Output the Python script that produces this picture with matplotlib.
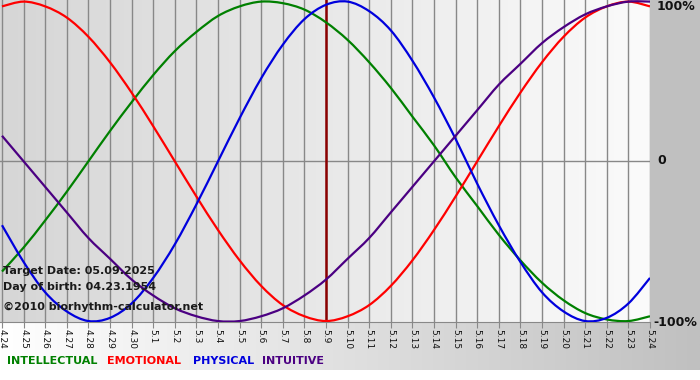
import numpy as np
import matplotlib
matplotlib.use("Agg")
import matplotlib.pyplot as plt
from matplotlib.path import Path
from matplotlib.patches import PathPatch

# ==========================================
# Data (daily values, 4.24 .. 5.24)
# ==========================================
dates = ["4.24", "4.25", "4.26", "4.27", "4.28", "4.29", "4.30"] + \
        [f"5.{d}" for d in range(1, 25)]

physical = [-0.40, -0.63, -0.82, -0.94, -1.00, -0.98, -0.89, -0.73, -0.52, -0.27,
            0.00, 0.27, 0.52, 0.73, 0.89, 0.98, 1.00, 0.94, 0.82, 0.63,
            0.40, 0.14, -0.14, -0.40, -0.63, -0.82, -0.94, -1.00, -0.98, -0.89, -0.73]
emotional = [0.97, 1.00, 0.97, 0.90, 0.78, 0.62, 0.43, 0.22, 0.00, -0.22,
             -0.43, -0.62, -0.78, -0.90, -0.97, -1.00, -0.97, -0.90, -0.78, -0.62,
             -0.43, -0.22, 0.00, 0.22, 0.43, 0.62, 0.78, 0.90, 0.97, 1.00, 0.97]
intellectual = [-0.69, -0.54, -0.37, -0.19, 0.00, 0.19, 0.37, 0.54, 0.69, 0.81,
                0.91, 0.97, 1.00, 0.99, 0.95, 0.87, 0.76, 0.62, 0.46, 0.28,
                0.10, -0.10, -0.28, -0.46, -0.62, -0.76, -0.87, -0.95, -0.99, -1.00, -0.97]
intuitive = [0.16, 0.00, -0.16, -0.32, -0.48, -0.61, -0.74, -0.84, -0.92, -0.97,
             -1.00, -1.00, -0.97, -0.92, -0.84, -0.74, -0.61, -0.48, -0.32, -0.16,
             0.00, 0.16, 0.32, 0.48, 0.61, 0.74, 0.84, 0.92, 0.97, 1.00, 1.00]

target_idx = dates.index("5.9")
target_text = "Target Date: 05.09.2025"
birth_text = "Day of birth: 04.23.1954"
site_text = "\u00a92010 biorhythm-calculator.net"

W, H = 700, 380
PX, PY = 650, 322   # plot area size in px


def smooth_path(xs, ys):
    """Catmull-Rom through the points, drawn as cubic Bezier segments"""
    pts = np.column_stack([xs, ys]).astype(float)
    verts = [pts[0]]
    codes = [Path.MOVETO]
    n = len(pts)
    for i in range(n - 1):
        p0 = pts[i - 1] if i > 0 else pts[i]
        p1, p2 = pts[i], pts[i + 1]
        p3 = pts[i + 2] if i + 2 < n else pts[i + 1]
        c1 = p1 + (p2 - p0) / 6.0
        c2 = p2 - (p3 - p1) / 6.0
        verts += [c1, c2, p2]
        codes += [Path.CURVE4] * 3
    return Path(verts, codes)


fig = plt.figure(figsize=(W / 100, H / 100), dpi=100)

# ==========================================
# Background (gradients) in pixel coords
# ==========================================
bg = fig.add_axes([0, 0, 1, 1])
bg.axis("off")

bg.add_patch(plt.Rectangle((0, 0), W, H, color="#ffffff", zorder=0))
bg.add_patch(plt.Rectangle((PX, 0), W - PX, PY, color="#c0c0c0", zorder=0))

grad = np.linspace(0, 1, 256).reshape(1, -1)
plot_cmap = matplotlib.colors.LinearSegmentedColormap.from_list("p", ["#d6d6d6", "#fbfbfb"])
bot_cmap = matplotlib.colors.LinearSegmentedColormap.from_list("b", ["#ffffff", "#c0c0c0"])
bg.imshow(grad, cmap=plot_cmap, extent=(0, PX, PY, 0), aspect="auto", zorder=1)
bg.imshow(grad, cmap=bot_cmap, extent=(0, W, 370, PY), aspect="auto", zorder=1)
bg.set_xlim(0, W)
bg.set_ylim(H, 0)

# right side labels
bg.text(657, 7, "100%", fontsize=9, fontweight="bold", color="#111111", va="center", ha="left")
bg.text(657, 161, "0", fontsize=9, fontweight="bold", color="#111111", va="center", ha="left")
bg.text(653, 322, "-100%", fontsize=9, fontweight="bold", color="#111111", va="center", ha="left")

# legend row
legend = [("INTELLECTUAL", "#008000", 7), ("EMOTIONAL", "#ff0000", 107),
          ("PHYSICAL", "#0000dd", 193), ("INTUITIVE", "#4b0082", 262)]
for name, col, xp in legend:
    bg.text(xp, 361, name, fontsize=8, fontweight="bold", color=col, va="center", ha="left")

# ==========================================
# Main plot
# ==========================================
ax = fig.add_axes([0, (H - PY) / H, PX / W, PY / H])
ax.patch.set_alpha(0)
x = np.arange(len(dates))
ax.set_xlim(-2 / 21.6, len(dates) - 1)
ax.set_ylim(-1.006, 1.01)

for xi in x:
    ax.axvline(xi, color="#888888", lw=1, zorder=1)
ax.axhline(0, color="#888888", lw=1, zorder=1)

ax.axvline(target_idx, color="#8b0000", lw=1.8, zorder=2)

for series, col in [(intellectual, "#008000"), (emotional, "#ff0000"),
                    (physical, "#0000dd"), (intuitive, "#4b0082")]:
    ax.add_patch(PathPatch(smooth_path(x, series), facecolor="none",
                           edgecolor=col, lw=1.6, zorder=3))

for sp in ["top", "right", "left"]:
    ax.spines[sp].set_visible(False)
ax.spines["bottom"].set_color("#888888")
ax.set_yticks([])
ax.set_xticks(x)
ax.set_xticklabels(dates, rotation=-90, fontsize=6.5, color="#111111")
ax.tick_params(axis="x", length=4, color="#888888", pad=1)

for txt, yp in [(target_text, 271), (birth_text, 287), (site_text, 307)]:
    ax.text(3 / PX, 1 - yp / PY, txt, transform=ax.transAxes, fontsize=8,
            fontweight="bold", color="#1a1a1a", va="center", ha="left", zorder=4)

plt.savefig("out.png", dpi=100)
plt.close()
